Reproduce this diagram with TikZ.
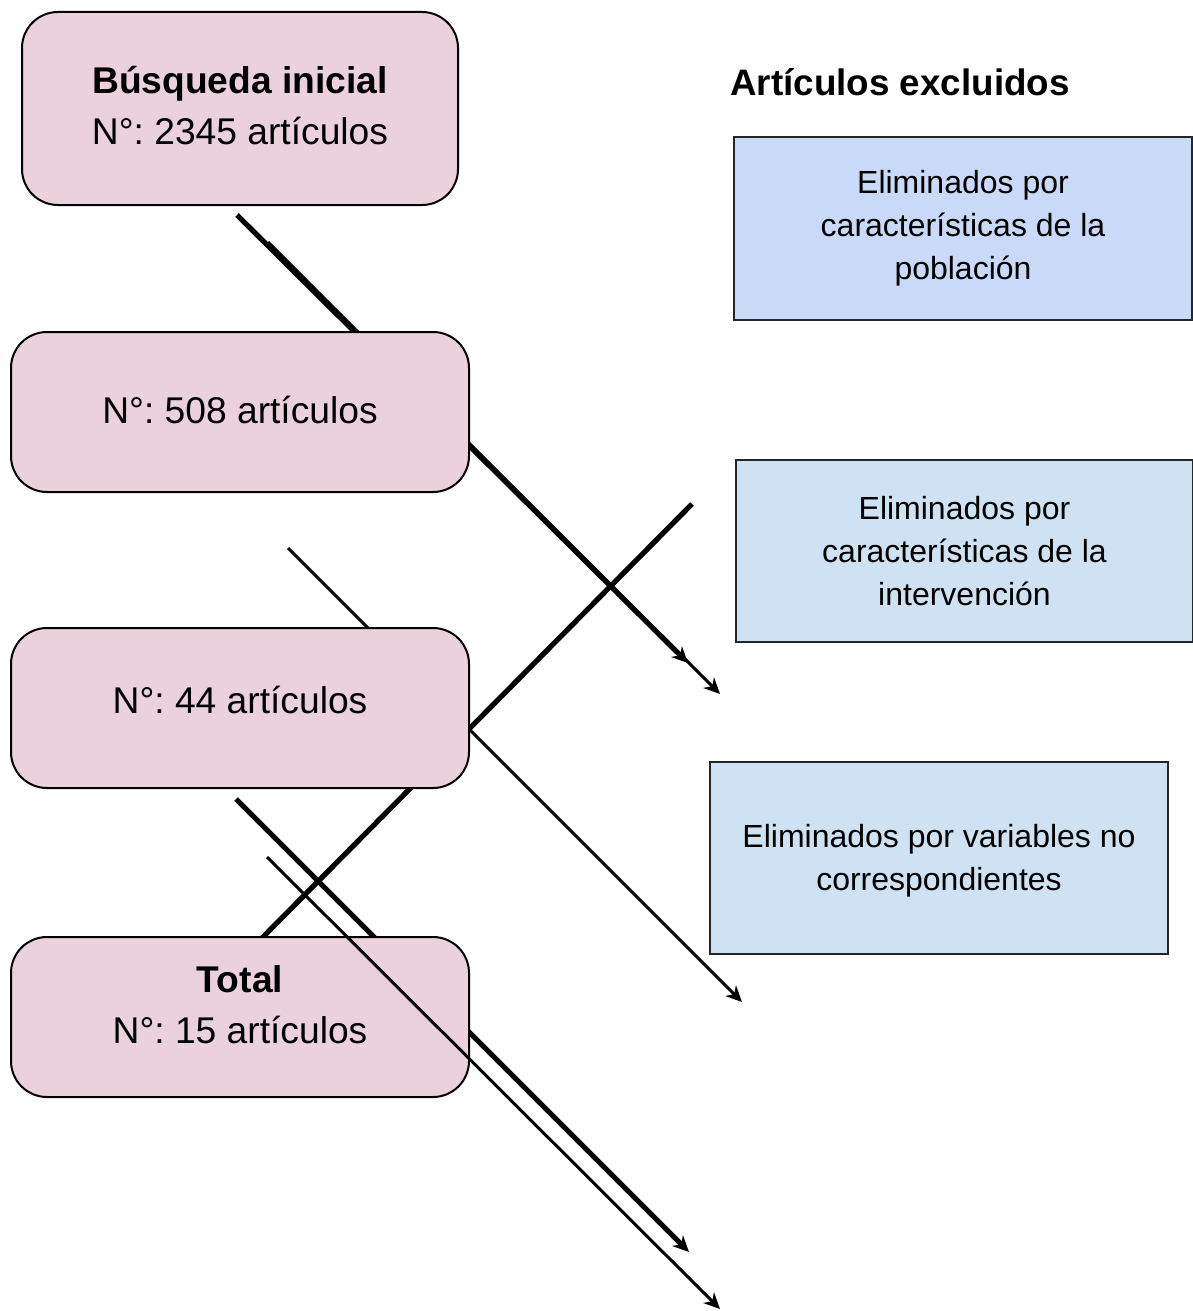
\documentclass[tikz,border=0pt]{standalone}
\usepackage{fontspec}
\setmainfont{Liberation Sans}
\usetikzlibrary{arrows.meta}
\definecolor{rosa}{HTML}{EAD1DC}
\definecolor{azul}{HTML}{C9DAF8}
\definecolor{celeste}{HTML}{CFE2F3}
\newcommand{\subir}[2]{\raisebox{#1}[\height][\depth]{\begin{tabular}{@{}c@{}}#2\end{tabular}}}
\frenchspacing
\begin{document}
\begin{tikzpicture}[x=0.5pt,y=-0.5pt,
	caja/.style={draw=black,line width=1pt,fill=rosa,rounded corners=18pt,align=center,inner sep=0pt,font=\fontsize{18.6}{25.5}\selectfont},
	excl/.style={draw=black!85,line width=1pt,align=center,inner sep=0pt,font=\fontsize{16}{21.5}\selectfont},
	grueso/.style={line width=2.6pt},
	fino/.style={line width=1.5pt},
	flecha/.style={-{Stealth[length=8pt,width=7.5pt,inset=2.5pt]}}]
	\useasboundingbox (0,0) rectangle (1193,1311);
	\coordinate (a1) at (237,215);
	\coordinate (a2) at (688,663);
	\coordinate (b1) at (268,242);
	\coordinate (b2) at (720,694);
	\coordinate (c1) at (288,548);
	\coordinate (c2) at (742,1002);
	\coordinate (d1) at (258,942);
	\coordinate (d2) at (692,504);
	\coordinate (e1) at (236,799);
	\coordinate (e2) at (689,1252);
	\coordinate (f1) at (267,857);
	\coordinate (f2) at (720,1309);
	\path (a1) edge[grueso,flecha] (a2)
	(b1) edge[fino,flecha] (b2)
	(c1) edge[fino,flecha] (c2)
	(d1) edge[grueso] (d2)
	(e1) edge[grueso,flecha] (e2);
	\node[caja,minimum width=218pt,minimum height=96.5pt] at (240,108.5) (busqueda) {\subir{0pt}{\textbf{Búsqueda inicial}\\N°: 2345 artículos}};
	\node[caja,minimum width=229pt,minimum height=80pt] at (240,412) (n508) {\subir{-0.5pt}{N°: 508 artículos}};
	\node[caja,minimum width=229pt,minimum height=80pt] at (240,708) (n44) {\subir{2.5pt}{N°: 44 artículos}};
	\node[caja,minimum width=229pt,minimum height=80pt] at (240,1017) (total) {\subir{4.5pt}{\textbf{Total}\\N°: 15 artículos}};
	\node[font=\fontsize{18.4}{25.5}\selectfont\bfseries] at (900,82) (titulo) {Artículos excluidos};
	\node[excl,fill=azul,minimum width=229pt,minimum height=91pt] at (963,228.5) (poblacion) {Eliminados por\\características de la\\población};
	\node[excl,fill=celeste,minimum width=228.5pt,minimum height=91pt] at (964.5,551) (intervencion) {Eliminados por\\características de la\\intervención};
	\node[excl,fill=celeste,minimum width=229pt,minimum height=96pt] at (939,858) (variables) {\raisebox{-1pt}[\height][\depth]{\begin{tabular}{@{}c@{}}Eliminados por variables no\\correspondientes\end{tabular}}};
	\path (f1) edge[fino,flecha] (f2);
\end{tikzpicture}
\end{document}
